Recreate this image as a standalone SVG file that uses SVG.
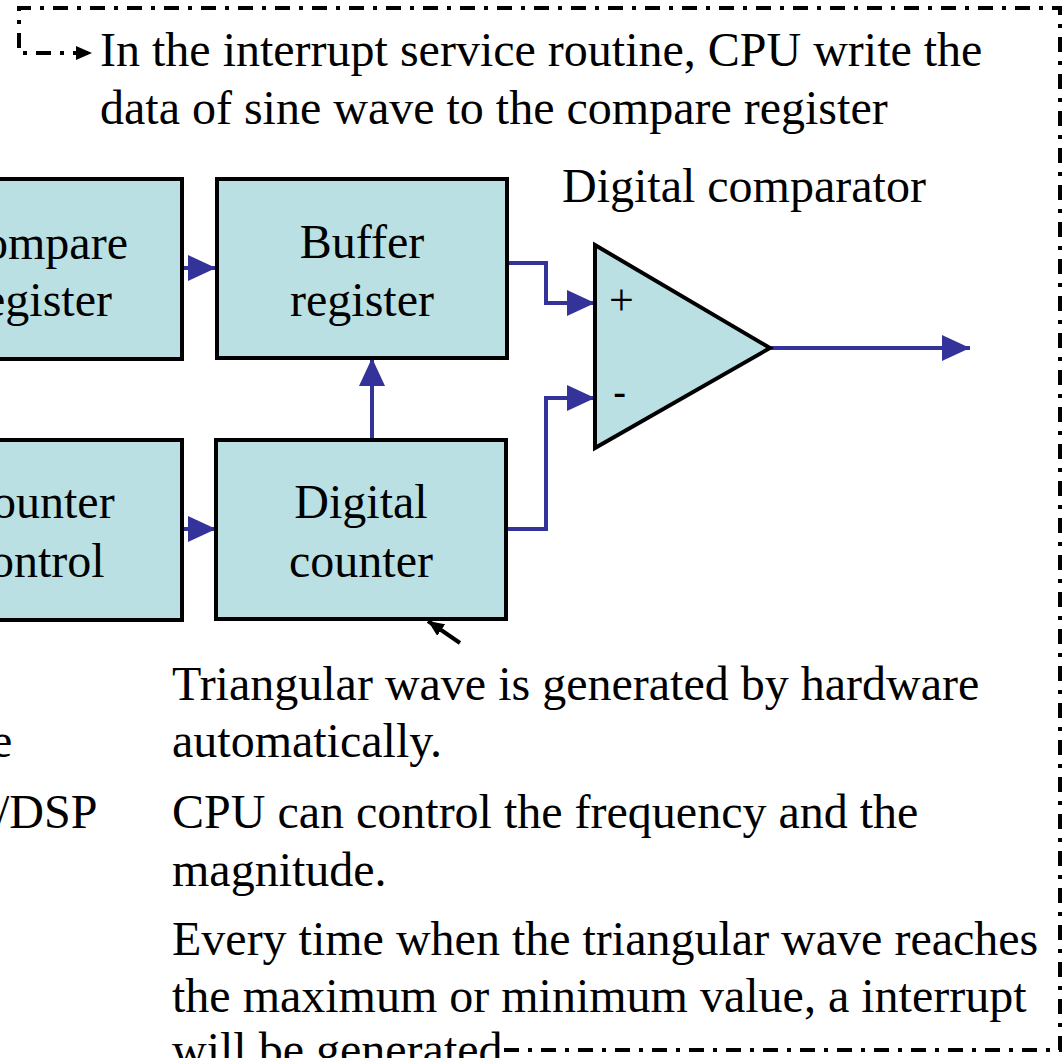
<svg xmlns="http://www.w3.org/2000/svg" width="1064" height="1058" viewBox="0 0 1064 1058">
<style>
.t{font-family:"Liberation Serif","Times New Roman",serif;font-size:48px;fill:#000}
.box{fill:#BAE0E3;stroke:#000;stroke-width:4}
.wire{fill:none;stroke:#333399;stroke-width:4}
.frame{fill:none;stroke:#000;stroke-width:4;stroke-dasharray:15 9 4 9}
</style>
<defs>
<marker id="ab" markerUnits="userSpaceOnUse" markerWidth="28" markerHeight="26" refX="28" refY="13" orient="auto"><path d="M0,0 L28,13 L0,26 z" fill="#333399"/></marker>
<marker id="ak" markerUnits="userSpaceOnUse" markerWidth="16" markerHeight="14" refX="16" refY="7" orient="auto"><path d="M0,0 L16,7 L0,14 z" fill="#000"/></marker>
</defs>
<rect width="1064" height="1058" fill="#fff"/>
<g id="connectors">
<path class="wire" d="M182,268 H216" marker-end="url(#ab)"/>
<path class="wire" d="M182,529 H216" marker-end="url(#ab)"/>
<path class="wire" d="M372,440 V358" marker-end="url(#ab)"/>
<path class="wire" d="M507,263 H546 V303 H595" marker-end="url(#ab)"/>
<path class="wire" d="M507,529 H546 V398 H595" marker-end="url(#ab)"/>
<path class="wire" d="M770,348 H970" marker-end="url(#ab)"/>
<path d="M460,643 L428,621" fill="none" stroke="#000" stroke-width="4" marker-end="url(#ak)"/>
<path class="frame" d="M504,1050 H1060 V8 H19 V53 H92" marker-end="url(#ak)"/>
</g>
<g id="compare-register">
<rect class="box" x="-10" y="179" width="192" height="180"/>
<text class="t" x="-16" y="259">ompare</text>
<text class="t" x="-16" y="316">egister</text>
</g>
<g id="counter-control">
<rect class="box" x="-10" y="440" width="192" height="180"/>
<text class="t" x="-8" y="518">ounter</text>
<text class="t" x="-10" y="577">ontrol</text>
</g>
<g id="buffer-register">
<rect class="box" x="217" y="179" width="290" height="179"/>
<text class="t" x="362" y="258" text-anchor="middle">Buffer</text>
<text class="t" x="362" y="316" text-anchor="middle">register</text>
</g>
<g id="digital-counter">
<rect class="box" x="216" y="440" width="290" height="179"/>
<text class="t" x="361" y="518" text-anchor="middle">Digital</text>
<text class="t" x="361" y="577" text-anchor="middle">counter</text>
</g>
<g id="digital-comparator">
<polygon class="box" points="595,245 770,348 595,448"/>
<text x="609" y="315" font-family="Liberation Serif, serif" font-size="44">+</text>
<text x="613" y="406" font-family="Liberation Sans, sans-serif" font-size="40">-</text>
<text class="t" x="562" y="202">Digital comparator</text>
</g>
<g id="texts">
<text class="t" x="100" y="66">In the interrupt service routine, CPU write the</text>
<text class="t" x="100" y="124">data of sine wave to the compare register</text>
<text class="t" x="172" y="700">Triangular wave is generated by hardware</text>
<text class="t" x="172" y="757">automatically.</text>
<text class="t" x="-9" y="757">e</text>
<text class="t" x="-4" y="828">/DSP</text>
<text class="t" x="172" y="828">CPU can control the frequency and the</text>
<text class="t" x="172" y="886">magnitude.</text>
<text class="t" x="172" y="955">Every time when the triangular wave reaches</text>
<text class="t" x="172" y="1012">the maximum or minimum value, a interrupt</text>
<text class="t" x="172" y="1066">will be generated</text>
</g>
</svg>
